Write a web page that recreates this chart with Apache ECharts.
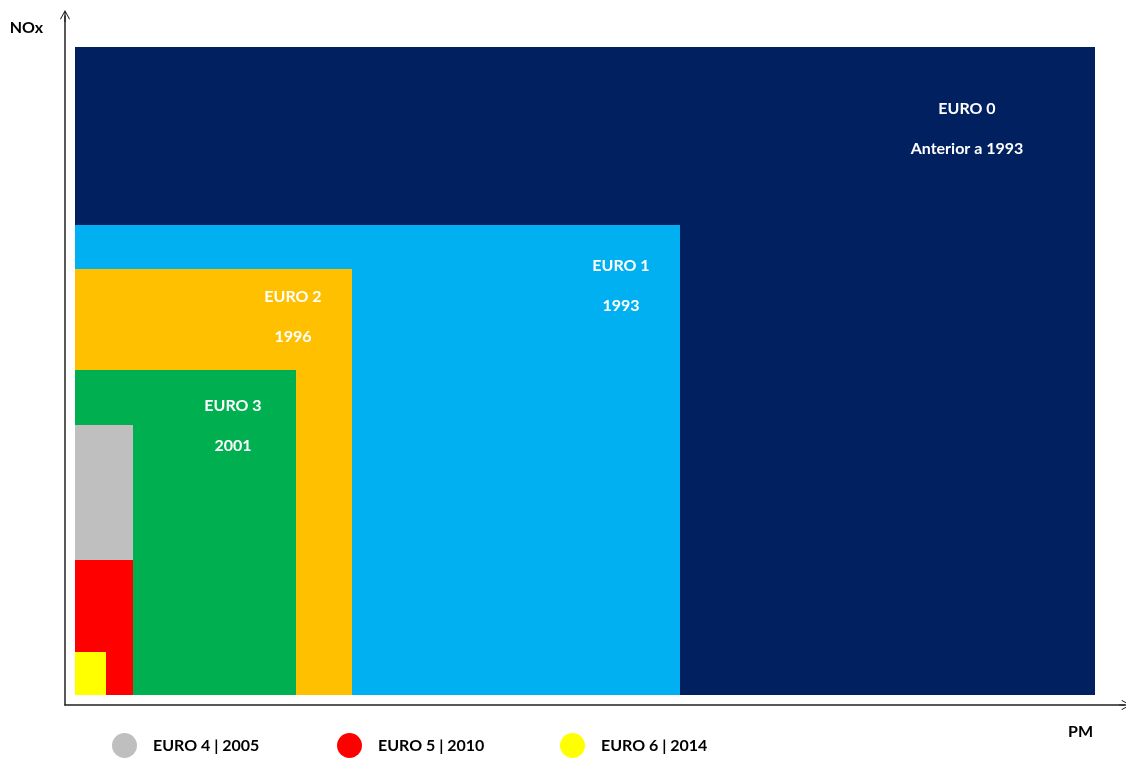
<!DOCTYPE html>
<html>
<head>
<meta charset="utf-8">
<title>Normas EURO - NOx / PM</title>
<script src="https://cdn.jsdelivr.net/npm/echarts@6/dist/echarts.min.js"></script>
<style>
  html, body { margin: 0; padding: 0; background: #fff; }
  #chart { width: 1126px; height: 758px; }
</style>
</head>
<body>
<div id="chart"></div>
<script>
// normas EURO (limites relativos)
const names = ['EURO 0', 'EURO 1', 'EURO 2', 'EURO 3', 'EURO 4', 'EURO 5', 'EURO 6'];
const years = ['Anterior a 1993', '1993', '1996', '2001', '2005', '2010', '2014'];
const pmLimits = [102, 60.5, 27.7, 22.1, 5.8, 5.8, 3.1];
const noxLimits = [64.8, 47.0, 42.6, 32.5, 27.0, 13.5, 4.3];
const legendNames = ['EURO 4 | 2005', 'EURO 5 | 2010', 'EURO 6 | 2014'];

const colors = ['#002060', '#00B0F0', '#FFC000', '#00B050', '#BFBFBF', '#FF0000', '#FFFF00'];
// deslocamento do texto (px) a partir do canto superior direito do retângulo
const labelOffsets = [[-128, 82], [-59, 61], [-59, 48], [-63, 56]];
const fontFamily = 'Lato, "Open Sans", sans-serif';

// seta aberta (chevron) no fim dos eixos
const arrowPath = 'path://M5,0 L10,9 L9.2,9.6 L5.6,3 L5.6,12 L4.4,12 L4.4,3 L0.8,9.6 L0,9 Z';

const chart = echarts.init(document.getElementById('chart'));

const series = names.map((name, i) => ({
  name: name + ' | ' + years[i],
  type: 'custom',
  itemStyle: { color: colors[i] },
  data: [[pmLimits[i], noxLimits[i]]],
  renderItem(params, api) {
    const o = api.coord([0, 0]);
    const p = api.coord([api.value(0), api.value(1)]);
    const children = [{
      type: 'rect',
      shape: { x: o[0], y: p[1], width: p[0] - o[0], height: o[1] - p[1] },
      style: { fill: api.visual('color') }
    }];
    const off = labelOffsets[i];
    if (off) {
      children.push({
        type: 'text',
        x: p[0] + off[0],
        y: p[1] + off[1],
        style: {
          text: name + '\n' + years[i],
          fill: '#fff',
          font: 'bold 16px ' + fontFamily,
          align: 'center',
          verticalAlign: 'middle',
          lineHeight: 40
        }
      });
    }
    return { type: 'group', children };
  }
}));

const legendLeft = [107, 332, 555];

chart.setOption({
  animation: false,
  grid: { left: 65, right: 1, top: 16, bottom: 53 },
  legend: legendNames.map((n, i) => ({
    data: [n],
    left: legendLeft[i],
    top: 728,
    icon: 'circle',
    itemWidth: 25,
    itemHeight: 25,
    selectedMode: false,
    textStyle: {
      color: '#000',
      fontWeight: 'bold',
      fontSize: 16,
      fontFamily,
      padding: [2, 0, 0, 11]
    }
  })),
  // nome do eixo X (PM) abaixo da seta
  graphic: [{
    type: 'text',
    right: 33,
    top: 724,
    style: { text: 'PM', fill: '#000', font: 'bold 16px ' + fontFamily }
  }],
  xAxis: {
    type: 'value',
    min: -1,
    max: 105,
    axisLine: {
      show: true,
      onZero: false,
      symbol: ['none', arrowPath],
      symbolSize: [12, 12],
      lineStyle: { color: '#222', width: 1.5 }
    },
    axisTick: { show: false },
    axisLabel: { show: false },
    splitLine: { show: false }
  },
  yAxis: {
    type: 'value',
    min: -1,
    max: 67.9,
    name: 'NOx',
    nameLocation: 'end',
    nameGap: -12,
    nameTextStyle: {
      color: '#000', fontWeight: 'bold', fontSize: 16, fontFamily,
      align: 'right', verticalAlign: 'middle', padding: [0, 22, 0, 0]
    },
    axisLine: {
      show: true,
      onZero: false,
      symbol: ['none', arrowPath],
      symbolSize: [12, 12],
      lineStyle: { color: '#222', width: 1.5 }
    },
    axisTick: { show: false },
    axisLabel: { show: false },
    splitLine: { show: false }
  },
  series
});

window.addEventListener('resize', () => chart.resize());
</script>
</body>
</html>
